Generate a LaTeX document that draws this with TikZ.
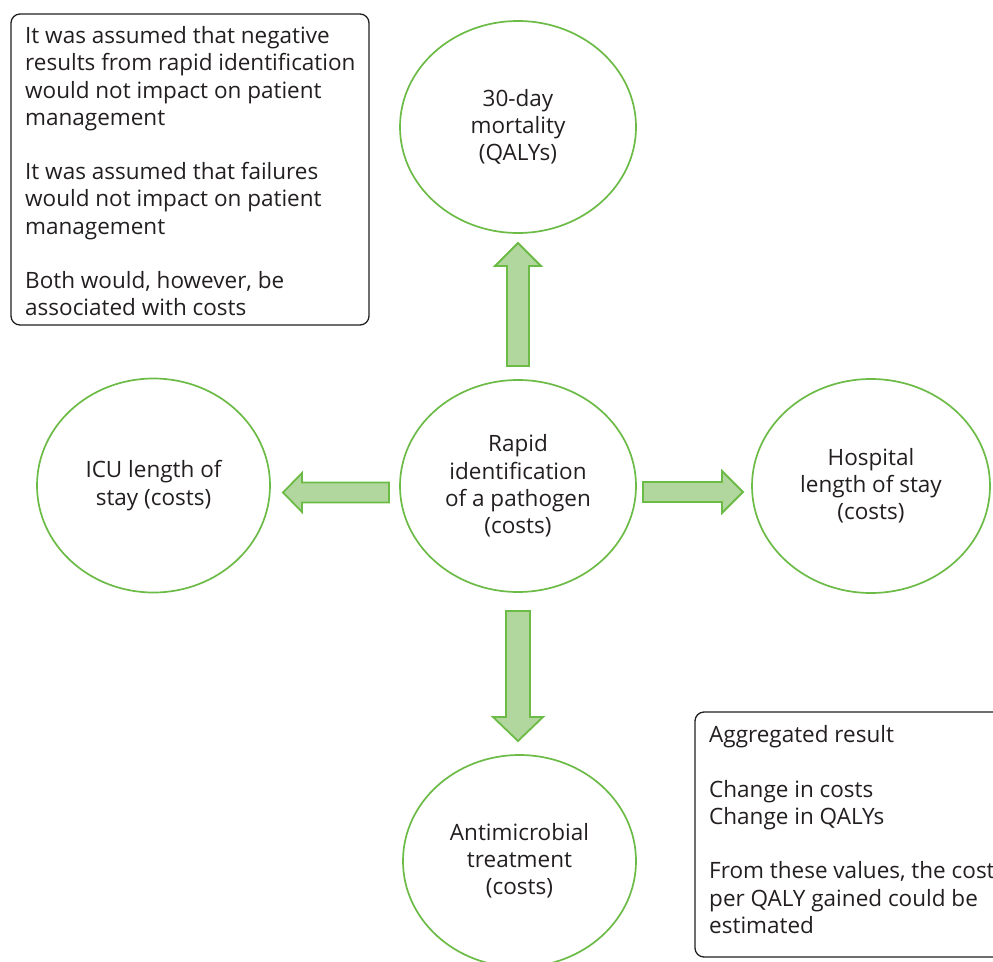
\documentclass[tikz,border=0pt]{standalone}
\usepackage{fontspec}
\setmainfont{Open Sans}
\usetikzlibrary{shapes.geometric}
\definecolor{ringgreen}{HTML}{6CBB47}
\definecolor{arrowfill}{HTML}{B1D69E}
\definecolor{inkdark}{HTML}{231F20}
\tikzset{
  oval/.style={ellipse, draw=ringgreen, line width=1.7pt, minimum width=236pt, minimum height=212pt, inner sep=0pt, align=center, text=inkdark, font=\fontsize{22.5}{27.2}\selectfont},
  notebox/.style={draw=inkdark, line width=1.3pt, rounded corners=9pt},
  notetext/.style={anchor=north west, align=left, text=inkdark, inner sep=0pt, font=\fontsize{22.5}{27.2}\selectfont},
  blockarrow/.style={draw=ringgreen, fill=arrowfill, line width=1.8pt, line join=miter}
}
\begin{document}
\begin{tikzpicture}[x=1pt,y=-1pt]
\useasboundingbox (0,0) rectangle (993,961);
\clip (0,0) rectangle (993,961);
\fill[white] (0,0) rectangle (993,961);
% ovals
\node[oval] (mort) at (518,127) {30-day\\mortality\\(QALYs)};
\node[oval] (rapid) at (518,486) {Rapid\\identification\\of a pathogen\\(costs)};
\node[oval, minimum width=233pt, minimum height=214pt] (icu) at (153.5,485.5) {ICU length of\\stay (costs)};
\node[oval, minimum width=238pt, minimum height=214pt] (hosp) at (871,486) {Hospital\\length of stay\\(costs)};
\node[oval, minimum width=233pt] (anti) at (519.5,861) {Antimicrobial\\treatment\\(costs)};
% block arrows
\draw[blockarrow] (507,366) -- (507,266) -- (495,266) -- (518,243) -- (541,266) -- (529,266) -- (529,366) -- cycle;
\draw[blockarrow] (389,482.5) -- (302,482.5) -- (302,473) -- (283,492.5) -- (302,512) -- (302,502.5) -- (389,502.5) -- cycle;
\draw[blockarrow] (643,482) -- (722,482) -- (722,471) -- (743,492) -- (722,513) -- (722,502) -- (643,502) -- cycle;
\draw[blockarrow] (506,611) -- (506,717) -- (493,717) -- (518,741) -- (543,717) -- (530,717) -- (530,611) -- cycle;
% note boxes
\draw[notebox] (11,14) rectangle (369,325);
\node[notetext] (assume) at (25,26.5) {It was assumed that negative\\results from rapid identification\\would not impact on patient\\management\\[27.2pt]It was assumed that failures\\would not impact on patient\\management\\[27.2pt]Both would, however, be\\associated with costs};
\draw[notebox] (695,712) rectangle (1015,957);
\node[notetext] (aggr) at (709,725.5) {Aggregated result\\[27.2pt]Change in costs\\Change in QALYs\\[27.2pt]From these values, the cost\\per QALY gained could be\\estimated};
\end{tikzpicture}
\end{document}
